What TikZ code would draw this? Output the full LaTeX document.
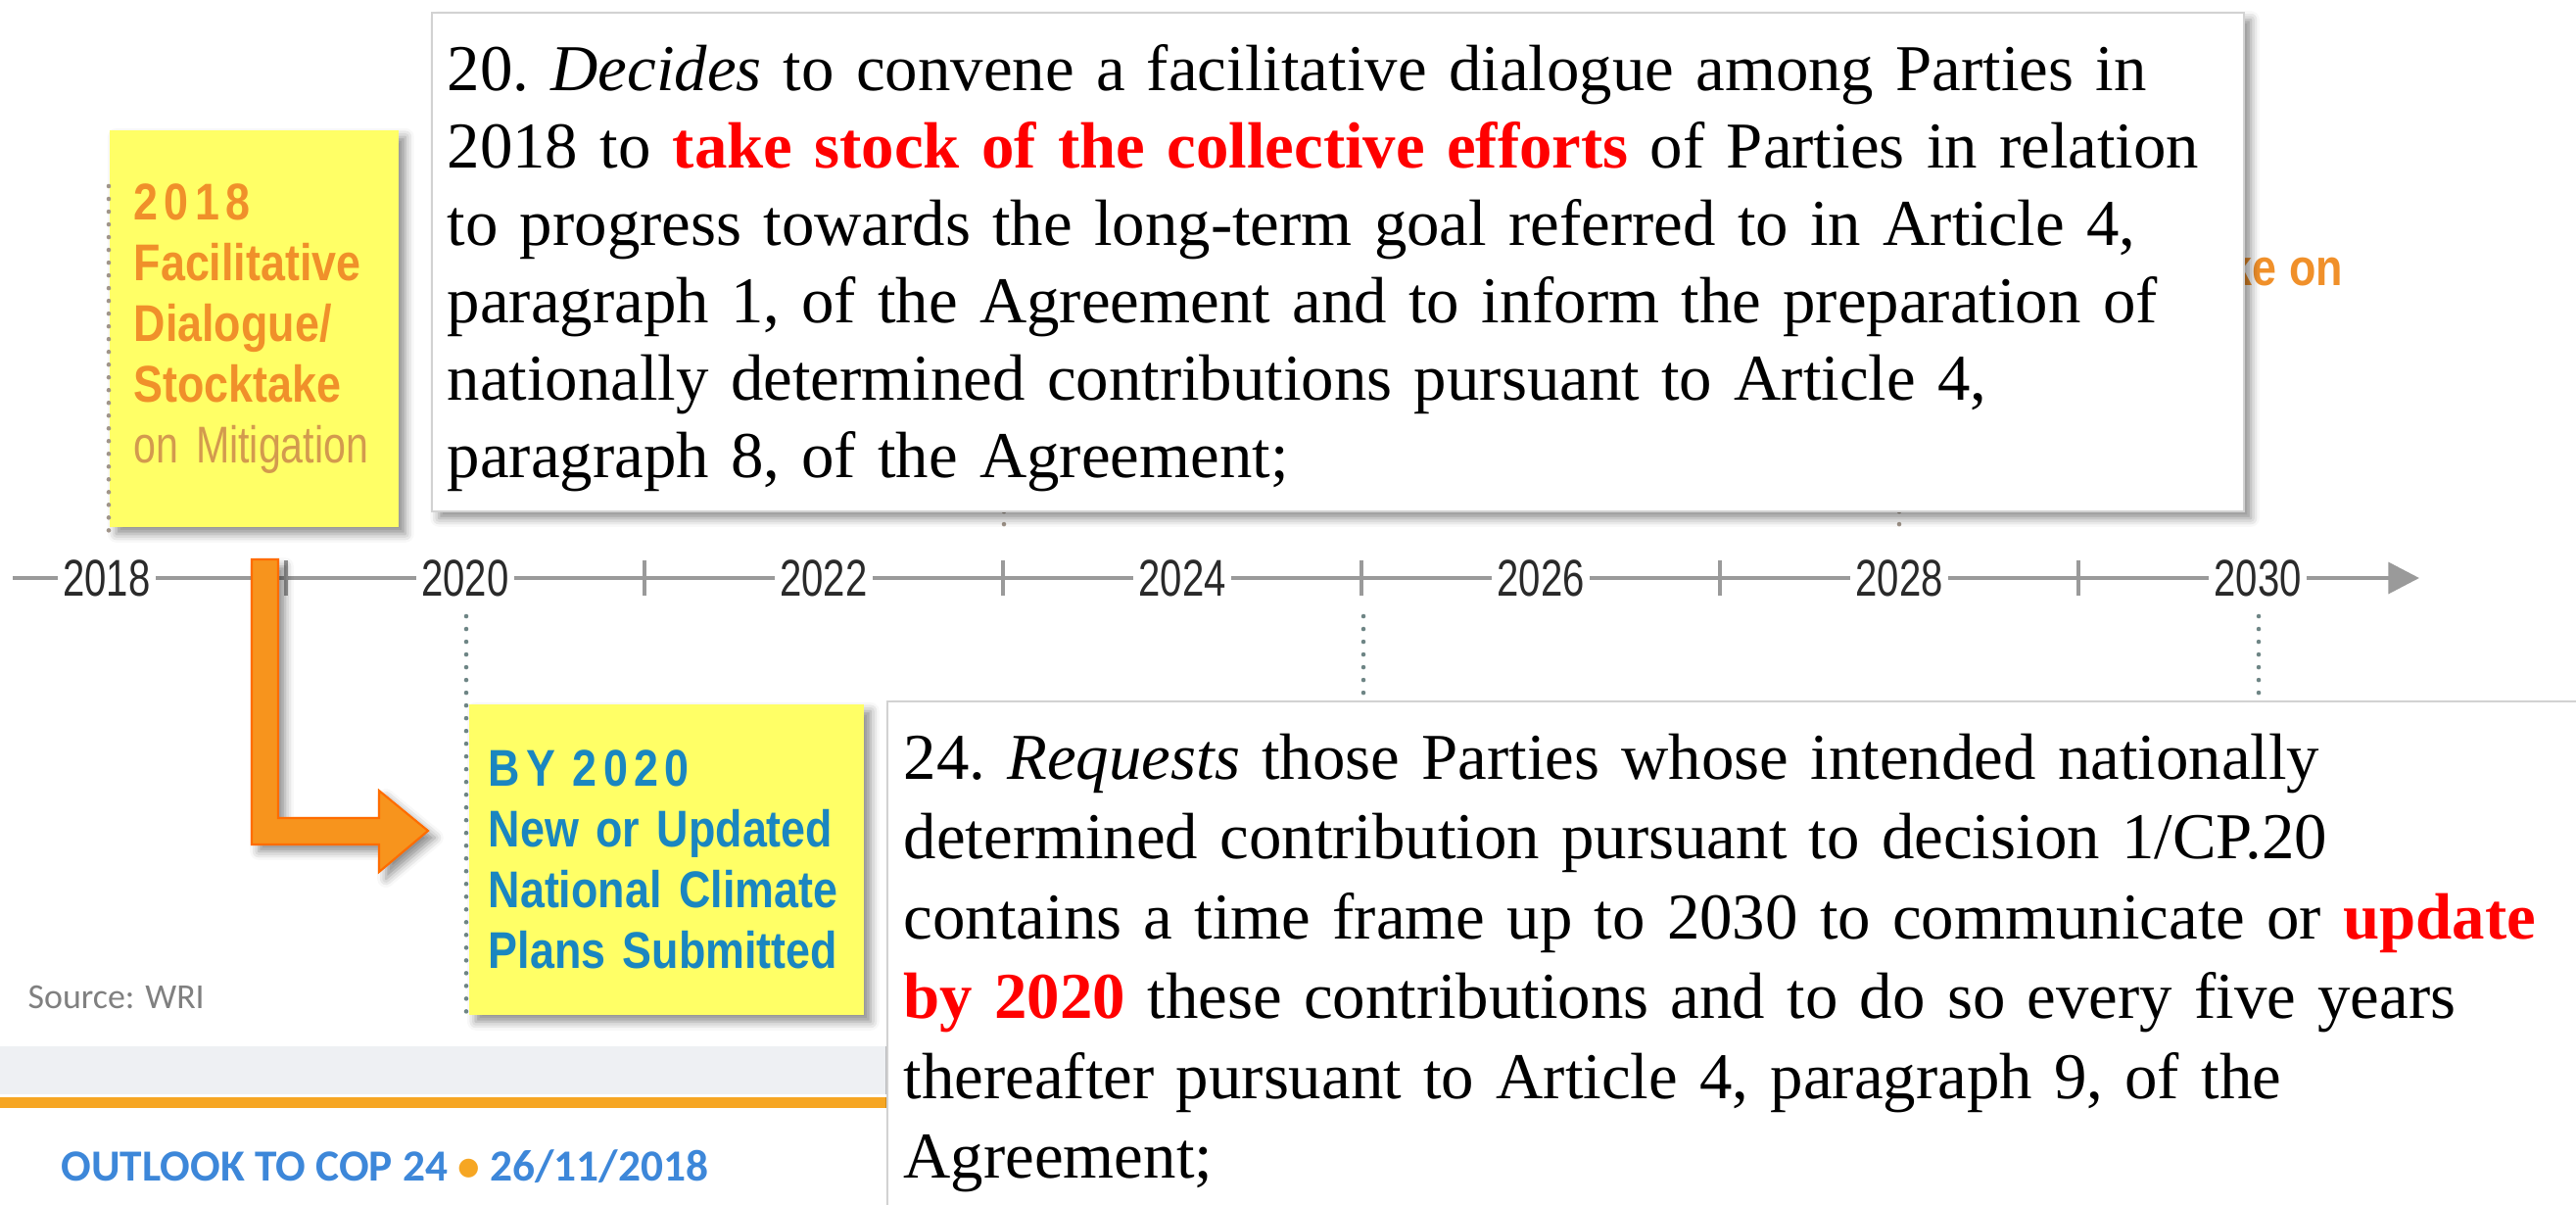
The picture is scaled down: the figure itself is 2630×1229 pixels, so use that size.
\documentclass[tikz,border=0pt]{standalone}
\usepackage{fontspec}
\setmainfont{Liberation Serif}
\newfontfamily\narrowsans[FakeStretch=0.85]{Liberation Sans}
\newfontfamily\narrowlight[FakeStretch=0.78]{Liberation Sans}
\newfontfamily\yearsans[FakeStretch=0.76]{Liberation Sans}
\newfontfamily\slidesans{Carlito}
\usetikzlibrary{arrows.meta,shadows.blur}

\definecolor{noteyellow}{HTML}{FFFF66}
\definecolor{stockorange}{HTML}{F0902A}
\definecolor{mitigtan}{HTML}{D39A4E}
\definecolor{ndcblue}{HTML}{1A86C0}
\definecolor{arroworange}{HTML}{F7941D}
\definecolor{axisgray}{HTML}{9A9A9A}
\definecolor{yeargray}{HTML}{2A2A2A}
\definecolor{footblue}{HTML}{3D87D9}
\definecolor{bandgray}{HTML}{EEF0F3}
\definecolor{bandorange}{HTML}{F6A623}
\definecolor{leadteal}{HTML}{6E8585}
\definecolor{leadbrown}{HTML}{A0958A}

\begin{document}
\begin{tikzpicture}[x=0.01cm, y=-0.01cm,
    axisline/.style={axisgray, line width=1.3pt},
    yearlabel/.style={fill=white, inner xsep=1.5pt, inner ysep=1pt, text=yeargray,
        font=\yearsans\fontsize{15}{16}\selectfont},
    leader/.style={leadteal, line width=1.3pt, line cap=round, dash pattern=on 0pt off 3.7pt},
    softshadow/.style={blur shadow={shadow xshift=2pt, shadow yshift=-2pt,
        shadow blur radius=2.5pt, shadow opacity=45}},
    notebox/.style={fill=noteyellow, anchor=north west, align=left, inner ysep=0pt, softshadow,
        font=\narrowsans\bfseries\fontsize{15}{17.6}\selectfont},
    articlebox/.style={fill=white, draw=gray!35, line width=0.8pt, softshadow},
    articletext/.style={anchor=base west, align=left, inner sep=0pt, text width=21cm}]
    \useasboundingbox (0,0) rectangle (2630,1229);

    % Footer band
    \fill[bandgray] (0,1068) rectangle (906,1117);
    \fill[bandorange] (0,1120) rectangle (906,1131);
    \node[anchor=west, inner sep=0pt, text=gray, font=\slidesans\fontsize{10.2}{12}\selectfont]
        (source) at (28,1018) {Source: WRI};
    \node[anchor=west, inner sep=0pt, text=footblue, font=\slidesans\bfseries\fontsize{12.9}{15}\selectfont]
        (footer) at (62,1191) {OUTLOOK TO COP 24 {\color{bandorange}•} 26/11/2018};

    % Timeline axis
    \coordinate (axisstart) at (13,590);
    \coordinate (axisend) at (2470,590);
    \draw[axisline, -{Triangle[length=9pt, width=9pt]}] (axisstart) -- (axisend);
    \foreach \yr in {2019,2021,...,2029}
        \draw[axisline] ({109+(\yr-2018)*183},572) -- ++(0,36);
    \foreach \yr in {2018,2020,...,2030}
        \node[yearlabel] (y\yr) at ({109+(\yr-2018)*183},590) {\yr};

    % Leaders hidden behind the article boxes
    \draw[leader, leadbrown] (1025,470) -- (1025,545);
    \draw[leader, leadbrown] (1939,470) -- (1939,545);
    \draw[leader] (1392,629) -- (1392,716);
    \draw[leader] (2306,629) -- (2306,716);
    \node[anchor=west, inner sep=0pt, text=stockorange, font=\narrowsans\bfseries\fontsize{15}{17.6}\selectfont]
        (keon) at (2274,273) {ke on};

    % Article 20 box
    \draw[articlebox] (441,13) rectangle (2291,522);
    \node[articletext, font=\fontsize{19}{22.5}\selectfont\frenchspacing] (decides) at (456,92)
        {20. \textit{Decides} to convene a facilitative dialogue among Parties in\\
        2018 to \textcolor{red}{\textbf{take stock of the collective efforts}} of Parties in relation\\
        to progress towards the long-term goal referred to in Article 4,\\
        paragraph 1, of the Agreement and to inform the preparation of\\
        nationally determined contributions pursuant to Article 4,\\
        paragraph 8, of the Agreement;};

    % 2018 note
    \node[notebox, minimum width=2.95cm, minimum height=4.05cm, text width=2.45cm, inner xsep=0.25cm,
        text=stockorange] (stocktake) at (111,132)
        {{\addfontfeature{LetterSpace=12}2018}\\ Facilitative\\ Dialogue/\\ Stocktake\\
        {\narrowlight\mdseries\color{mitigtan}on Mitigation}};
    \draw[leader, leadbrown] (111,190) -- (111,547);

    % Orange bent arrow
    \fill[arroworange, draw=orange!85!red, line width=0.6pt, softshadow]
        (257,571) -- (284,571) -- (284,835) -- (387,835) -- (387,807) -- (437,848)
        -- (387,890) -- (387,862) -- (257,862) -- cycle;

    % 2020 note
    \node[notebox, minimum width=4.03cm, minimum height=3.17cm, text width=3.63cm, inner xsep=0.2cm,
        text=ndcblue] (by2020) at (478,718)
        {{\addfontfeature{LetterSpace=12}BY 2020}\\ New or Updated\\ National Climate\\ Plans Submitted};
    \coordinate (lead2020) at (476,629);
    \draw[leader] (lead2020) -- (lead2020 |- by2020.south west);

    % Article 24 box
    \draw[articlebox] (906,716) rectangle (2660,1260);
    \node[articletext, font=\fontsize{19}{23.2}\selectfont\frenchspacing] (requests) at (922,795)
        {24. \textit{Requests} those Parties whose intended nationally\\
        determined contribution pursuant to decision 1/CP.20\\
        contains a time frame up to 2030 to communicate or \textcolor{red}{\textbf{update}}\\
        \textcolor{red}{\textbf{by 2020}} these contributions and to do so every five years\\
        thereafter pursuant to Article 4, paragraph 9, of the\\
        Agreement;};
\end{tikzpicture}
\end{document}
